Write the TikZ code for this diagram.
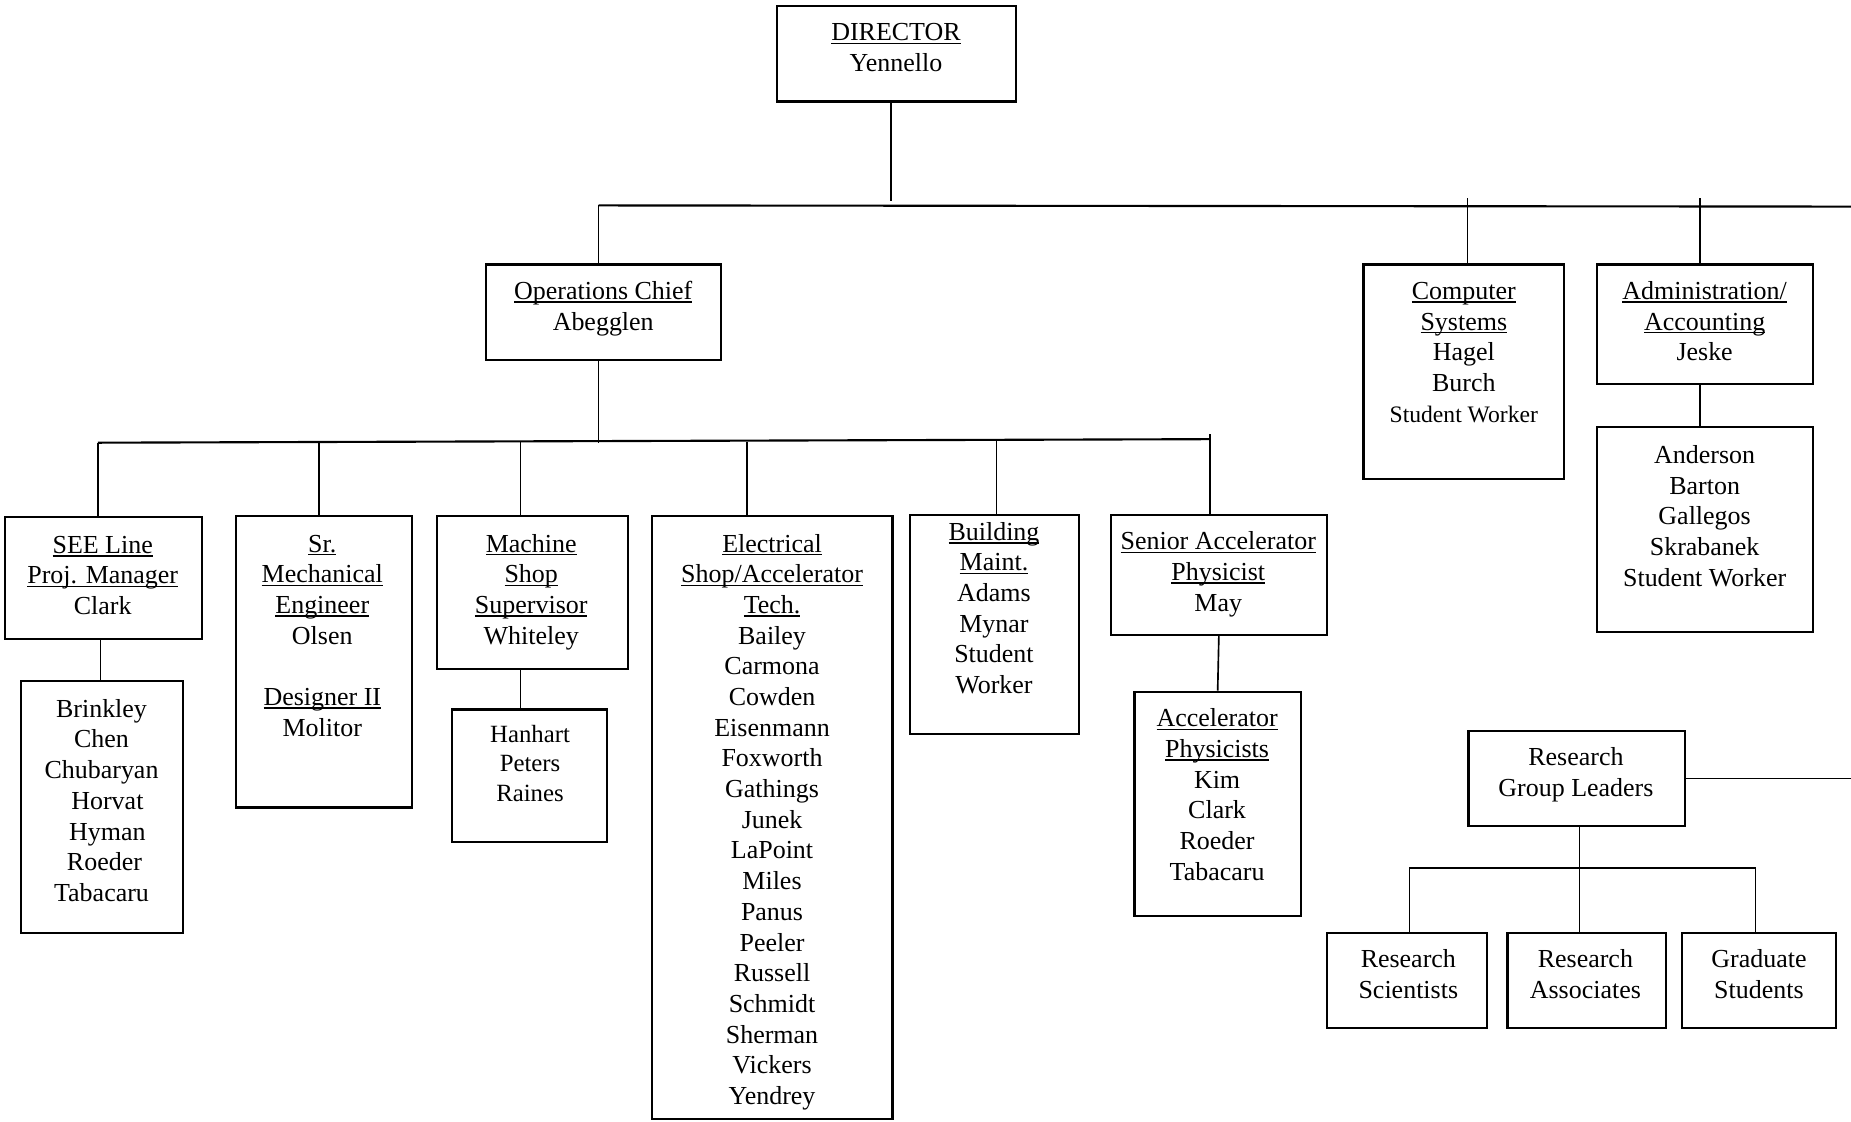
\documentclass[tikz,border=0pt]{standalone}
\usepackage{fontspec}
\setmainfont{Liberation Serif}
\usetikzlibrary{fit}
\newsavebox\ulb
\newcommand\ul[1]{\sbox\ulb{#1}\rlap{\rule[-1.4pt]{\wd\ulb}{0.55pt}}\usebox\ulb}
\tikzset{
  box/.style={draw, line width=0.9pt, inner sep=0pt},
  txt/.style={anchor=north, inner sep=0pt, align=center, font=\fontsize{11}{13}\selectfont},
  smalltxt/.style={txt, font=\fontsize{10.5}{12.5}\selectfont},
  conn/.style={line width=0.7pt},
}
\begin{document}
\begin{tikzpicture}[x=0.5pt, y=-0.5pt]
\useasboundingbox (0,0) rectangle (1568,950);

% ---- boxes ----
\node[box, fit={(658,5) (861,86)}] (dir) {};
\node[txt] (dirT) at (759,16) {\strut\ul{DIRECTOR}\\Yennello};

\node[box, fit={(412,224) (611,305)}] (ops) {};
\node[txt] (opsT) at (511,235) {\strut\ul{Operations Chief}\\Abegglen};

\node[box, fit={(1155,224) (1325,406)}] (comp) {};
\node[txt] (compT) at (1240,235) {\strut\ul{Computer}\\\ul{Systems}\\Hagel\\Burch\\{\fontsize{10}{13}\selectfont Student Worker}};

\node[box, fit={(1353,224) (1536,325)}] (adm) {};
\node[txt] (admT) at (1444,235) {\strut\ul{Administration/}\\\ul{Accounting}\\Jeske};

\node[box, fit={(1353,362) (1536,535)}] (admS) {};
\node[txt] (admST) at (1444,374) {\strut Anderson\\Barton\\Gallegos\\Skrabanek\\Student Worker};

\node[box, fit={(4,438) (171,541)}] (see) {};
\node[txt] (seeT) at (87,450) {\strut\ul{SEE Line}\\\ul{Proj. Manager}\\Clark};

\node[box, fit={(18,577) (155,790)}] (seeS) {};
\node[txt] (seeST) at (86,589) {\strut Brinkley\\Chen\\Chubaryan\\\hspace*{5pt}Horvat\\\hspace*{5pt}Hyman\\\hspace*{2.5pt}Roeder\\Tabacaru};

\node[box, fit={(200,437) (349,684)}] (srm) {};
\node[txt] (srmT) at (273,449) {\strut\ul{Sr.}\\\ul{Mechanical}\\\ul{Engineer}\\Olsen\\[13pt]\ul{Designer II}\\Molitor};

\node[box, fit={(370,437) (532,567)}] (mach) {};
\node[txt] (machT) at (450,449) {\strut\ul{Machine}\\\ul{Shop}\\\ul{Supervisor}\\Whiteley};

\node[box, fit={(383,601) (514,713)}] (machS) {};
\node[smalltxt] (machST) at (449,611) {\strut Hanhart\\Peters\\Raines};

\node[box, fit={(552,437) (756,948)}] (elec) {};
\node[txt] (elecT) at (654,449) {\strut\ul{Electrical}\\\ul{Shop/Accelerator}\\\ul{Tech.}\\Bailey\\Carmona\\Cowden\\Eisenmann\\Foxworth\\Gathings\\Junek\\LaPoint\\Miles\\Panus\\Peeler\\Russell\\Schmidt\\Sherman\\Vickers\\Yendrey};

\node[box, fit={(771,436) (914,622)}] (bldg) {};
\node[txt] (bldgT) at (842,439) {\strut\ul{Building}\\\ul{Maint.}\\Adams\\Mynar\\Student\\Worker};

\node[box, fit={(941,436) (1124,538)}] (sacc) {};
\node[txt] (saccT) at (1032,447) {\strut\ul{Senior Accelerator}\\\ul{Physicist}\\May};

\node[box, fit={(961,586) (1102,776)}] (accp) {};
\node[txt] (accpT) at (1031,597) {\strut\ul{Accelerator}\\\ul{Physicists}\\Kim\\Clark\\Roeder\\Tabacaru};

\node[box, fit={(1244,619) (1427,700)}] (rgl) {};
\node[txt] (rglT) at (1335,630) {\strut Research\\Group Leaders};

\node[box, fit={(1124,790) (1260,871)}] (rs) {};
\node[txt] (rsT) at (1193,801) {\strut Research\\Scientists};

\node[box, fit={(1277,790) (1411,871)}] (ra) {};
\node[txt] (raT) at (1343,801) {\strut Research\\Associates};

\node[box, fit={(1425,790) (1555,871)}] (gs) {};
\node[txt] (gsT) at (1490,801) {\strut Graduate\\Students};

% ---- connector points ----
\coordinate (dD) at (755,170);
\coordinate (busL) at (507,174);
\coordinate (busR) at (1568,175);
\coordinate (cD) at (1243,168);
\coordinate (aD) at (1440,168);
\coordinate (b2L) at (83,375);
\coordinate (b2R) at (1025,372);
\coordinate (d2) at (270,375);
\coordinate (d3) at (441,374);
\coordinate (d4) at (633,374);
\coordinate (d5) at (844,373);
\coordinate (d6) at (1025,368);
\coordinate (edgeR) at (1568,660);
\coordinate (b3L) at (1194,735);
\coordinate (b3M) at (1338,735);
\coordinate (b3R) at (1487,735);

% ---- connectors ----
\draw[conn] (dir.south -| dD) -- (dD);
\draw[conn, line width=0.9pt] (busL) -- (busR);
\draw[conn] (busL) -- (busL |- ops.north);
\draw[conn] (cD) -- (cD |- comp.north);
\draw[conn] (aD) -- (aD |- adm.north);
\draw[conn] (adm.south -| aD) -- (admS.north -| aD);

\draw[conn] (ops.south -| busL) -- (busL |- b2L);
\draw[conn, line width=0.9pt] (b2L) -- (b2R);
\draw[conn] (b2L) -- (b2L |- see.north);
\draw[conn] (d2) -- (d2 |- srm.north);
\draw[conn] (d3) -- (d3 |- mach.north);
\draw[conn] (d4) -- (d4 |- elec.north);
\draw[conn] (d5) -- (d5 |- bldg.north);
\draw[conn] (d6) -- (d6 |- sacc.north);

\draw[conn] ([xshift=1pt]see.south -| b2L) -- ([xshift=1pt]seeS.north -| b2L);
\draw[conn] (mach.south -| d3) -- (machS.north -| d3);
\draw[conn] (sacc.south) -- (accp.north);

\draw[conn] (rgl.east) -- (rgl.east -| edgeR);
\draw[conn] (rgl.south -| b3M) -- (ra.north -| b3M);
\draw[conn] (rs.north -| b3L) -- (b3L) -- (b3R) -- (gs.north -| b3R);
\end{tikzpicture}
\end{document}
